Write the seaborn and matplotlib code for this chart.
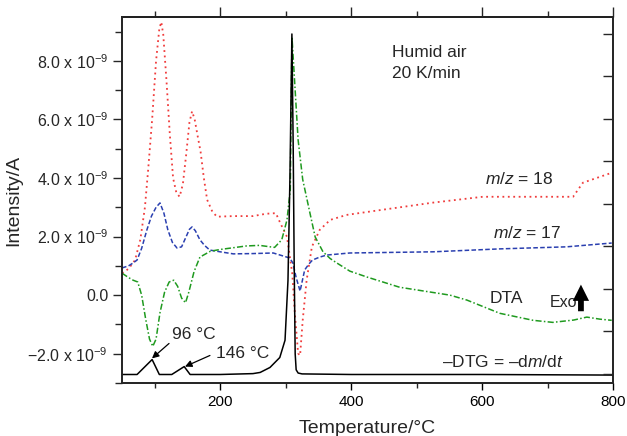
import numpy as np
import pandas as pd
import matplotlib
matplotlib.use("Agg")
import matplotlib.pyplot as plt
import seaborn as sns

# ---- data (values in units of 1e-9 A) ----
dtg_T = [50, 73, 96, 107, 126, 145, 154, 200, 250, 261, 276, 291, 299, 303.5, 306.5, 309.5,
         311.5, 313, 314.5, 316, 319, 325, 400, 600, 800]
dtg_I = [-2.71, -2.71, -2.20, -2.71, -2.71, -2.44, -2.71, -2.71, -2.68, -2.64, -2.47, -2.13, -1.54, 0.5,
         4.0, 8.92, 5.0, 1.0, -2.0, -2.55, -2.66, -2.69, -2.71, -2.71, -2.73]

dta_T = [50, 60, 67, 74, 80, 86, 92, 97, 102, 108, 115, 122, 129, 135, 141, 147, 152, 160, 169, 185,
         200, 220, 240, 260, 283, 294, 302, 307, 309.6, 319, 326, 337, 345, 357, 368, 378, 398, 424,
         474, 551, 577, 627, 678, 708, 740, 760, 780, 798]
dta_I = [0.75, 0.6, 0.51, 0.45, 0.0, -0.8, -1.5, -1.75, -1.5, -0.6, 0.1, 0.45, 0.51, 0.3, -0.1, -0.26,
         0.1, 0.8, 1.3, 1.5, 1.56, 1.62, 1.68, 1.70, 1.63, 1.89, 2.57, 3.6, 8.82, 5.3, 3.95, 2.81, 1.99,
         1.48, 1.25, 1.10, 0.82, 0.62, 0.27, 0.0, -0.17, -0.62, -0.86, -0.93, -0.85, -0.75, -0.82, -0.86]

m18_T = [50, 60, 70, 78, 85, 90, 96, 102, 107, 110, 113, 118, 123, 128, 133, 138, 143, 148, 153, 157,
         161, 165, 170, 175, 180, 188, 195, 220, 250, 270, 285, 291, 302, 310, 314, 319, 322, 326, 332,
         340, 352, 368, 393, 449, 525, 601, 678, 739, 754, 798]
m18_I = [0.75, 0.9, 1.2, 1.9, 3.0, 4.3, 6.0, 8.0, 9.1, 9.33, 8.9, 7.3, 5.5, 4.0, 3.5, 3.36, 3.8, 4.8,
         5.9, 6.28, 6.0, 5.5, 4.9, 4.0, 3.26, 2.85, 2.68, 2.70, 2.70, 2.78, 2.80, 2.5, 1.99, 0.75, -0.62,
         -1.99, -2.06, -0.86, 0.51, 1.65, 2.23, 2.57, 2.74, 2.92, 3.16, 3.36, 3.36, 3.36, 3.84, 4.18]

m17_T = [50, 60, 67, 73, 80, 88, 95, 102, 108, 114, 120, 127, 134, 141, 148, 153, 157, 162, 169, 176,
         184, 200, 220, 250, 281, 306, 311, 316, 322, 329, 335, 341, 352, 363, 398, 525, 627, 729, 798]
m17_I = [0.93, 1.0, 1.10, 1.2, 1.6, 2.23, 2.7, 3.0, 3.15, 2.8, 2.23, 1.8, 1.61, 1.65, 2.0, 2.25, 2.33,
         2.2, 1.89, 1.7, 1.54, 1.48, 1.41, 1.42, 1.44, 1.27, 1.10, 0.6, 0.14, 0.86, 1.05, 1.20, 1.30,
         1.37, 1.44, 1.48, 1.58, 1.65, 1.78]

y_ticks = [-2, 0, 2, 4, 6, 8]
y_labels = ["\u22122.0 x 10$^{-9}$", "0.0", "2.0 x 10$^{-9}$", "4.0 x 10$^{-9}$",
            "6.0 x 10$^{-9}$", "8.0 x 10$^{-9}$"]
x_ticks = [200, 400, 600, 800]

sns.set_theme(style="ticks")
plt.rcParams['font.family'] = ['Liberation Sans', 'DejaVu Sans']
plt.rcParams['mathtext.fontset'] = 'custom'
plt.rcParams['mathtext.rm'] = 'Liberation Sans'
plt.rcParams['mathtext.it'] = 'Liberation Sans:italic'

fig = plt.figure(figsize=(6.27, 4.36), dpi=100)
ax = fig.add_axes([0.1946, 0.1216, 0.7831, 0.8394])

def frame(T, I):
    return pd.DataFrame({"T": T, "I": I})

sns.lineplot(data=frame(m18_T, m18_I), x="T", y="I", ax=ax, color="#f03c3c",
             linestyle=(0, (1, 2)), lw=1.3, sort=False)
sns.lineplot(data=frame(m17_T, m17_I), x="T", y="I", ax=ax, color="#2a3fb0",
             linestyle=(0, (3, 1.5)), lw=1.1, sort=False)
sns.lineplot(data=frame(dta_T, dta_I), x="T", y="I", ax=ax, color="#1f9a1f",
             linestyle=(0, (4, 1.5, 1, 1.5)), lw=1.1, sort=False)
sns.lineplot(data=frame(dtg_T, dtg_I), x="T", y="I", ax=ax, color="black",
             lw=1.1, sort=False)

ax.set_xlim(50, 800)
ax.set_ylim(-3.0, 9.5)
ax.set_xticks(x_ticks)
ax.set_xticks([100, 300, 500, 700], minor=True)
ax.set_yticks(y_ticks)
ax.set_yticklabels(y_labels)
ax.set_yticks([-3, -1, 1, 3, 5, 7, 9], minor=True)
ax.tick_params(axis='x', which='major', direction='out', length=5, width=1, labelsize=11, colors='black')
ax.tick_params(axis='x', which='minor', direction='out', length=3.5, width=1)
ax.tick_params(axis='y', which='major', direction='out', length=6.5, width=1, labelsize=11.5)
ax.tick_params(axis='y', which='minor', direction='out', length=5, width=1)
for s in ax.spines.values():
    s.set_visible(True)
    s.set_linewidth(1.1)
    s.set_color('black')

top = ax.secondary_xaxis('top')
top.set_xticks(x_ticks)
top.set_xticks([100, 300, 500, 700], minor=True)
top.tick_params(which='major', direction='out', length=7, width=1, labeltop=False)
top.tick_params(which='minor', direction='out', length=4, width=1)

right = ax.twinx()
right.set_ylim(-0.212, 8.4)
right.set_yticks(range(0, 9))
right.tick_params(axis='y', direction='in', length=7, width=1, labelright=False)
right.grid(False)

ax.set_xlabel("Temperature/\u00b0C", fontsize=14, labelpad=8)
ax.set_ylabel("Intensity/A", fontsize=14, labelpad=4)

fs = 12.5
ax.text(462, 8.30, "Humid air", fontsize=fs, va='center', ha='left')
ax.text(462, 7.58, "20 K/min", fontsize=fs, va='center', ha='left')
ax.text(604, 3.95, "$m/z$ = 18", fontsize=fs, va='center', ha='left')
ax.text(616, 2.13, "$m/z$ = 17", fontsize=fs, va='center', ha='left')
ax.text(612, -0.10, "DTA", fontsize=fs, va='center', ha='left')
ax.text(703, -0.24, "Exo", fontsize=11.5, va='center', ha='left')
ax.text(538.5, -2.30, "\u2013DTG = \u2013d$m$/d$t$", fontsize=fs, va='center', ha='left')
ax.text(126, -1.34, "96 \u00b0C", fontsize=fs, va='center', ha='left')
ax.text(193.5, -1.99, "146 \u00b0C", fontsize=fs, va='center', ha='left')

ax.annotate('', xy=(751, 0.36), xytext=(751, -0.55),
            arrowprops=dict(arrowstyle='simple,head_width=0.9,head_length=0.9,tail_width=0.32',
                            color='black', lw=0, mutation_scale=13, shrinkA=0, shrinkB=0))
ax.annotate('', xy=(95.8, -2.16), xytext=(121.8, -1.65),
            arrowprops=dict(arrowstyle='-|>', color='black', lw=0.9, mutation_scale=10,
                            shrinkA=0, shrinkB=0))
ax.annotate('', xy=(146.2, -2.44), xytext=(184.3, -2.06),
            arrowprops=dict(arrowstyle='-|>', color='black', lw=0.9, mutation_scale=10,
                            shrinkA=0, shrinkB=0))

fig.savefig("out.png", dpi=100)
